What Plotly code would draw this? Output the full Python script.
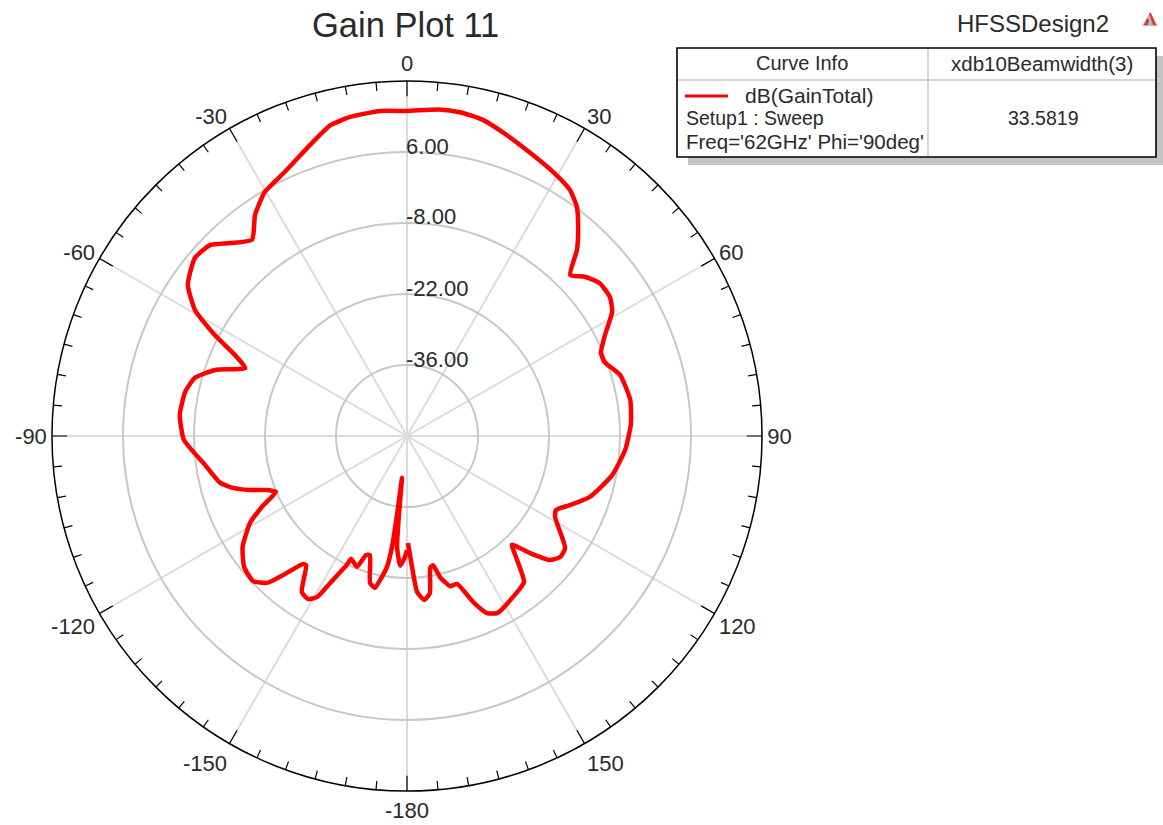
import plotly.graph_objects as go

# Gain pattern, in plotting order
theta_deg = [-180, -179, -177, -174.9, -174.2, -173.2, -172.8, -172.3, -171.3, -169.4, -168.1, -165.9, -162.7, -161,
             -159.1, -155.5, -155, -152.4, -150.8, -148.7, -146, -142, -140.9, -138.3, -136.4, -133.3, -128.8,
             -124, -119, -116, -113.1, -111.1, -109, -106.6, -104, -98.2, -91, -84.7, -78.8, -74.7, -71, -67.2,
             -64.8, -62.3, -59.3, -55.4, -50, -45.9, -42.5, -38.3, -34.5, -30.2, -24.8, -18.4, -13.9, -10.1,
             -4.7, 0, 5.6, 9.3, 13.5, 18.4, 23.5, 29, 33.5, 36.6, 39.2, 42.4, 45.4, 48.2, 51.6, 55.6, 58.8, 63,
             66.8, 69.5, 74, 80.8, 87, 93.7, 100.8, 108.4, 113, 116.4, 118.7, 125.3, 128.3, 131, 133.6, 136,
             138.4, 141.3, 146.6, 153, 155.7, 158.3, 161.3, 164, 166.8, 168.6, 170, 171.7, 174, 176.3, 177.8,
             179.5]
gain_db = [-27.5, -26.1, -24.4, -28, -34, -41.7, -35, -27.9, -23.9, -21.1, -19.4, -20.1, -25.4, -25.2,
           -22.4, -23.4, -22, -17.3, -13.6, -12.4, -12.9, -17.7, -17.5, -13.3, -10, -8.3, -8.8,
           -10.9, -14.6, -18.2, -21.9, -20.4, -17.3, -14.2, -12, -9.8, -6, -5, -5.4, -6.6, -10, -15.4,
           -12.5, -7.2, -1.4, 2.5, 4.6, 4.1, 1.6, -0.7, 2.9, 5.7, 7.4, 10.5, 13.1, 13.9,
           14.3, 14.1, 14.7, 14.7, 14.1, 12.5, 10.9, 9.5, 8.2, 6.2, 3.4, -0.3, -4.8, -2.9, -1.5, -1.5, -2.7, -6.2,
           -8.4, -8.4, -6.3, -5.4, -5.8, -6.9, -8.8, -12, -15.1, -17.2, -16.7, -11.8, -11.5, -12.7, -16.5, -20.2,
           -17.3, -13.1, -12, -10.8, -11.7, -14.8, -19.2, -19.2, -21.4, -24, -23.6, -18.7, -17.5, -19.2, -24.2,
           -28.9]

radial_ticks = [-36, -22, -8, 6, 20]
radial_labels = ["-36.00", "-22.00", "-8.00", "6.00"]
radial_label_vals = [-36, -22, -8, 6]
angle_ticks = [0, 30, 60, 90, 120, 150, 180, 210, 240, 270, 300, 330]
angle_labels = ["0", "30", "60", "90", "120", "150", "-180", "-150", "-120", "-90", "-60", "-30"]
minor_angles = [a for a in range(0, 360, 5) if a % 30]

W, H = 1163, 825
FONT = "Liberation Sans, Arial, sans-serif"
TXT = "#2a2a2a"
RMIN, RMAX = -50, 20
CX, CY, RAD = 407, 436, 355


def px(x):
    return x / W


def py(y):
    return 1 - y / H


def seg_trace(angles, inner, color="black", width=1.2):
    th, rr = [], []
    for a in angles:
        th += [a, a, None]
        rr += [RMAX, inner, None]
    return go.Scatterpolar(theta=th, r=rr, mode="lines", line=dict(color=color, width=width),
                           hoverinfo="skip", showlegend=False)


fig = go.Figure()
fig.add_trace(seg_trace(minor_angles, 18.3))
fig.add_trace(seg_trace(angle_ticks, 17.0))
fig.add_trace(go.Scatterpolar(theta=theta_deg, r=gain_db, mode="lines",
                              line=dict(color="#ff0000", width=4.5, shape="spline", smoothing=0.5),
                              hoverinfo="skip", showlegend=False))


def poly(points, color):
    d = " ".join(("M" if i == 0 else "L") + f" {px(x)} {py(y)}" for i, (x, y) in enumerate(points)) + " Z"
    return dict(type="path", xref="paper", yref="paper", path=d, fillcolor=color, line_width=0)


shapes = [
    dict(type="rect", xref="paper", yref="paper", x0=px(688), x1=px(1163), y0=py(157), y1=py(165),
         fillcolor="#c4c4c4", line_width=0, layer="below"),
    dict(type="rect", xref="paper", yref="paper", x0=px(1156), x1=px(1163), y0=py(56), y1=py(165),
         fillcolor="#c4c4c4", line_width=0, layer="below"),
    dict(type="rect", xref="paper", yref="paper", x0=px(677), x1=px(1156), y0=py(157), y1=py(48),
         fillcolor="white", line=dict(color="black", width=1.6)),
    dict(type="line", xref="paper", yref="paper", x0=px(928), x1=px(928), y0=py(49), y1=py(156),
         line=dict(color="#c8c8c8", width=1.5)),
    dict(type="line", xref="paper", yref="paper", x0=px(678), x1=px(1155), y0=py(80), y1=py(80),
         line=dict(color="#c8c8c8", width=1.5)),
    dict(type="line", xref="paper", yref="paper", x0=px(685), x1=px(728), y0=py(96), y1=py(96),
         line=dict(color="#ff0000", width=3)),
    poly([(1150, 12), (1158, 26), (1142, 26)], "#b8b8b8"),
    poly([(1149, 13), (1151, 13), (1156, 25), (1153, 25)], "#e03030"),
    poly([(1147, 19), (1149, 19), (1148, 25), (1144, 25)], "#e03030"),
]


def label(x, y, text, size=18, anchor="center"):
    return dict(xref="paper", yref="paper", x=px(x), y=py(y), text=text, showarrow=False,
                xanchor=anchor, yanchor="middle", font=dict(family=FONT, size=size, color=TXT))


annotations = [
    label(405, 25, "Gain Plot 11", 34.5),
    label(1033, 24, "HFSSDesign2", 24),
    label(802, 63, "Curve Info", 20),
    label(1042, 63, "xdb10Beamwidth(3)", 20.5),
    label(743, 96, "dB(GainTotal)", 21, "left"),
    label(684, 118, "Setup1 : Sweep", 19.5, "left"),
    label(684, 141, "Freq='62GHz' Phi='90deg'", 20.5, "left"),
    label(1043, 118, "33.5819", 19.5),
]
for val, txt in zip(radial_label_vals, radial_labels):
    r_px = (val - RMIN) / (RMAX - RMIN) * RAD
    annotations.append(label(404, CY - r_px - 6, txt, 22, "left"))

fig.update_layout(
    width=W, height=H, margin=dict(l=0, r=0, t=0, b=0),
    paper_bgcolor="white", plot_bgcolor="white", showlegend=False,
    shapes=shapes, annotations=annotations,
    polar=dict(
        domain=dict(x=[px(CX - RAD), px(CX + RAD)], y=[py(CY + RAD), py(CY - RAD)]),
        bgcolor="white",
        radialaxis=dict(range=[RMIN, RMAX], tickvals=radial_ticks, showticklabels=False, ticks="",
                        showline=False, gridcolor="#c8c8c8", gridwidth=1.5, angle=90),
        angularaxis=dict(direction="clockwise", rotation=90, tickmode="array", tickvals=angle_ticks,
                         ticktext=angle_labels, ticks="", showline=True, linecolor="black", linewidth=1.5,
                         gridcolor="#dcdcdc", gridwidth=1.5,
                         tickfont=dict(family=FONT, size=22, color=TXT)),
    ),
)
fig.write_html("out.html", config={"displayModeBar": False},
               post_script="document.body.style.margin='0';document.body.style.overflow='hidden';")
